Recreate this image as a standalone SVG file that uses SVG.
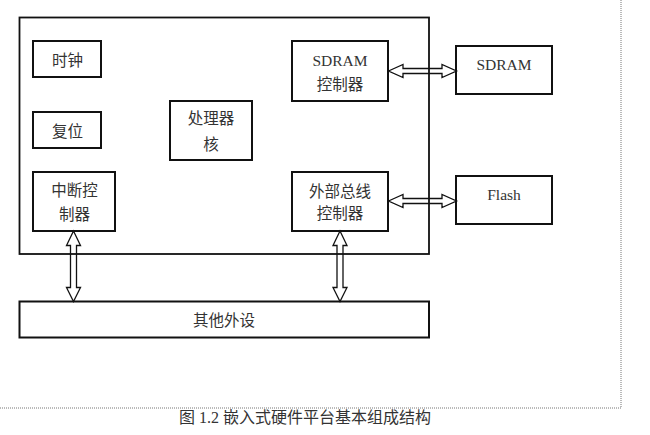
<svg xmlns="http://www.w3.org/2000/svg" width="650" height="435" viewBox="0 0 650 435">
<style>
.box{fill:#fff;stroke:#111;stroke-width:2}
.outer{fill:none;stroke:#111;stroke-width:1.8}
.arr{fill:none;stroke:#111;stroke-width:1.3;stroke-linejoin:miter}
.t{font-family:"Liberation Serif","Noto Sans CJK SC",serif;font-size:15.5px;fill:#333;text-anchor:middle}
.cap{font-family:"Liberation Serif","Noto Sans CJK SC",serif;font-size:16px;fill:#333}
.frame{fill:none;stroke:#777;stroke-width:1;stroke-dasharray:1,1}
</style>
<rect width="650" height="435" fill="#fff"/>
<g id="frame">
<path class="frame" d="M621,0 V408 H0"/>
</g>
<g id="soc">
<rect class="outer" x="19.5" y="17.5" width="409.5" height="236.5"/>
</g>
<g id="clock">
<rect class="box" x="33" y="41" width="68" height="36"/>
<text class="t" x="67.5" y="66">时钟</text>
</g>
<g id="reset">
<rect class="box" x="33" y="112" width="68" height="36"/>
<text class="t" x="67.5" y="136.5">复位</text>
</g>
<g id="intc">
<rect class="box" x="33" y="172" width="82" height="59"/>
<text class="t" x="74.5" y="196">中断控</text>
<text class="t" x="74.5" y="219.5">制器</text>
</g>
<g id="core">
<rect class="box" x="170" y="101" width="82" height="59"/>
<text class="t" x="211" y="123.5">处理器</text>
<text class="t" x="211" y="149.5">核</text>
</g>
<g id="sdramc">
<rect class="box" x="292" y="41" width="96" height="60"/>
<text class="t" x="340" y="65.5">SDRAM</text>
<text class="t" x="340" y="89.5">控制器</text>
</g>
<g id="ebc">
<rect class="box" x="292" y="172" width="96" height="59"/>
<text class="t" x="340" y="197">外部总线</text>
<text class="t" x="340" y="218.5">控制器</text>
</g>
<g id="sdram">
<rect class="box" x="456" y="46" width="96" height="48"/>
<text class="t" x="504" y="70">SDRAM</text>
</g>
<g id="flash">
<rect class="box" x="456" y="176" width="96" height="48"/>
<text class="t" x="504" y="200">Flash</text>
</g>
<g id="periph">
<rect class="box" x="19.5" y="301.5" width="409.5" height="36"/>
<text class="t" x="224" y="325.5">其他外设</text>
</g>
<g id="connectors">
<path class="arr" d="M388.5,71 L403,64.5 L403,68.5 L442,68.5 L442,64.5 L456.5,71 L442,77.5 L442,73.5 L403,73.5 L403,77.5 Z"/>
<path class="arr" d="M388.5,201 L403,194.5 L403,198.5 L442,198.5 L442,194.5 L456.5,201 L442,207.5 L442,203.5 L403,203.5 L403,207.5 Z"/>
<path class="arr" d="M73.5,231 L80.5,245.5 L76.5,245.5 L76.5,287.5 L80.5,287.5 L73.5,301.5 L66.5,287.5 L70.5,287.5 L70.5,245.5 L66.5,245.5 Z"/>
<path class="arr" d="M340,231 L347,245.5 L343,245.5 L343,287.5 L347,287.5 L340,301.5 L333,287.5 L337,287.5 L337,245.5 L333,245.5 Z"/>
</g>
<g id="caption">
<text class="cap" x="179" y="423">图 1.2 嵌入式硬件平台基本组成结构</text>
</g>
</svg>
